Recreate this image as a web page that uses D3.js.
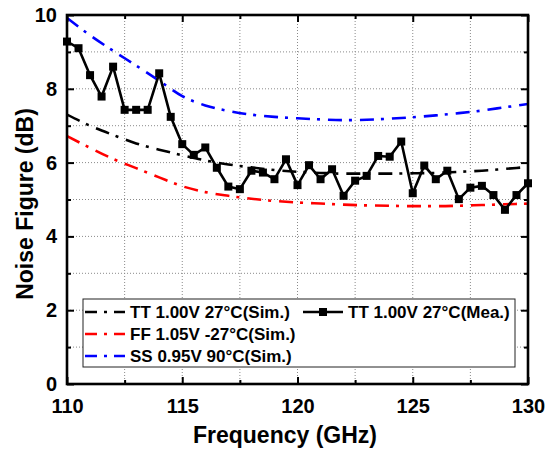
<!DOCTYPE html>
<html>
<head>
<meta charset="utf-8">
<script src="https://cdn.jsdelivr.net/npm/d3@7"></script>
<style>
  body { margin: 0; background: #fff; }
  svg text { font-family: "Liberation Sans", Arial, sans-serif; font-weight: bold; }
</style>
</head>
<body>
<div id="myChart"></div>
<script>
// simulated curves, 1 GHz steps
var simFreq = [110,111,112,113,114,115,116,117,118,119,120,121,122,123,124,125,126,127,128,129,130];
var simTT = [7.30,7.00,6.75,6.52,6.35,6.20,6.06,5.95,5.87,5.80,5.75,5.72,5.70,5.70,5.70,5.71,5.72,5.75,5.78,5.83,5.88];
var simFF = [6.72,6.40,6.10,5.85,5.60,5.36,5.20,5.10,5.02,4.96,4.92,4.89,4.86,4.84,4.83,4.82,4.82,4.83,4.85,4.87,4.89];
var simSS = [9.92,9.45,9.03,8.63,8.22,7.80,7.55,7.40,7.30,7.24,7.20,7.17,7.15,7.16,7.19,7.23,7.28,7.34,7.41,7.50,7.59];

// measured, 0.5 GHz steps
var meaFreq = [110,110.5,111,111.5,112,112.5,113,113.5,114,114.5,115,115.5,116,116.5,117,117.5,118,118.5,119,119.5,
  120,120.5,121,121.5,122,122.5,123,123.5,124,124.5,125,125.5,126,126.5,127,127.5,128,128.5,129,129.5,130];
var meaTT = [9.28,9.10,8.37,7.79,8.60,7.43,7.43,7.43,8.42,7.24,6.50,6.21,6.41,5.86,5.35,5.28,5.78,5.73,5.55,6.09,
  5.39,5.93,5.55,5.82,5.10,5.51,5.64,6.18,6.16,6.57,5.17,5.92,5.55,5.78,5.01,5.32,5.37,5.12,4.72,5.12,5.44];

var xTicks = [110,115,120,125,130];
var xMinor = [112.5,117.5,122.5,127.5];
var yTicks = [0,2,4,6,8,10];
var yMinor = [1,3,5,7,9];

var legendItems = [
  {label: 'TT 1.00V 27°C(Sim.)', color: '#000000', dash: true},
  {label: 'FF 1.05V -27°C(Sim.)', color: '#ff0000', dash: true},
  {label: 'SS 0.95V 90°C(Sim.)', color: '#0000ff', dash: true},
  {label: 'TT 1.00V 27°C(Mea.)', color: '#000000', dash: false}
];

function plotChart() {
  var W = 548, H = 460;
  var margin = {left: 67, top: 15, right: 20, bottom: 76};
  var w = W - margin.left - margin.right;
  var h = H - margin.top - margin.bottom;
  var dashPattern = '14,7,3,8';

  var svg = d3.select('#myChart').append('svg')
    .attr('width', W).attr('height', H);
  var g = svg.append('g')
    .attr('transform', 'translate(' + margin.left + ',' + margin.top + ')');

  var x = d3.scaleLinear().domain([110, 130]).range([0, w]);
  var y = d3.scaleLinear().domain([0, 10]).range([h, 0]);

  g.append('clipPath').attr('id', 'plotClip')
    .append('rect').attr('width', w).attr('height', h);

  // dotted grid
  var grid = g.append('g').attr('class', 'grid')
    .attr('stroke', '#8a8a8a').attr('stroke-width', 1).attr('stroke-dasharray', '1,2');
  grid.selectAll('.vg').data(xMinor.concat([115,120,125])).enter().append('line')
    .attr('x1', function(d) { return x(d); }).attr('x2', function(d) { return x(d); })
    .attr('y1', 0).attr('y2', h);
  grid.selectAll('.hg').data(d3.range(1, 10)).enter().append('line')
    .attr('y1', function(d) { return y(d); }).attr('y2', function(d) { return y(d); })
    .attr('x1', 0).attr('x2', w);

  // lines
  var line = d3.line()
    .x(function(d) { return x(d[0]); })
    .y(function(d) { return y(d[1]); })
    .curve(d3.curveMonotoneX);

  var lines = g.append('g').attr('clip-path', 'url(#plotClip)');
  [[simTT, '#000000'], [simFF, '#ff0000'], [simSS, '#0000ff']].forEach(function(s) {
    lines.append('path')
      .datum(d3.zip(simFreq, s[0]))
      .attr('d', line)
      .attr('fill', 'none')
      .attr('stroke', s[1])
      .attr('stroke-width', 2.6)
      .attr('stroke-dasharray', dashPattern);
  });

  var meaLine = d3.line()
    .x(function(d) { return x(d[0]); })
    .y(function(d) { return y(d[1]); });
  var mea = d3.zip(meaFreq, meaTT);
  lines.append('path')
    .datum(mea)
    .attr('d', meaLine)
    .attr('fill', 'none')
    .attr('stroke', '#000')
    .attr('stroke-width', 2.6)
    .attr('stroke-linejoin', 'round');
  g.append('g').selectAll('rect').data(mea).enter().append('rect')
    .attr('x', function(d) { return x(d[0]) - 4; })
    .attr('y', function(d) { return y(d[1]) - 4; })
    .attr('width', 8).attr('height', 8)
    .attr('fill', '#000');

  // axes, ticks inward
  function styleAxis(sel) {
    sel.select('.domain').remove();
    sel.selectAll('.tick line').attr('stroke', '#000').attr('stroke-width', 2);
    sel.selectAll('.tick text').attr('font-size', 20).attr('fill', '#000');
  }
  g.append('g').attr('transform', 'translate(0,' + h + ')')
    .call(d3.axisBottom(x).tickValues(xTicks).tickSize(-7).tickPadding(15).tickFormat(d3.format('d')))
    .call(styleAxis);
  g.append('g').attr('transform', 'translate(0,' + h + ')')
    .call(d3.axisBottom(x).tickValues(xMinor).tickSize(-4).tickFormat(''))
    .call(styleAxis);
  g.append('g')
    .call(d3.axisLeft(y).tickValues(yTicks).tickSize(-7).tickPadding(10).tickFormat(d3.format('d')))
    .call(styleAxis);
  g.append('g')
    .call(d3.axisLeft(y).tickValues(yMinor).tickSize(-4).tickFormat(''))
    .call(styleAxis);
  g.append('g')
    .call(d3.axisTop(x).tickValues(xTicks).tickSize(-7).tickFormat(''))
    .call(styleAxis);
  g.append('g')
    .call(d3.axisTop(x).tickValues(xMinor).tickSize(-4).tickFormat(''))
    .call(styleAxis);
  g.append('g').attr('transform', 'translate(' + w + ',0)')
    .call(d3.axisRight(y).tickValues(yTicks).tickSize(-7).tickFormat(''))
    .call(styleAxis);
  g.append('g').attr('transform', 'translate(' + w + ',0)')
    .call(d3.axisRight(y).tickValues(yMinor).tickSize(-4).tickFormat(''))
    .call(styleAxis);

  // frame
  g.append('rect')
    .attr('width', w).attr('height', h)
    .attr('fill', 'none').attr('stroke', '#000').attr('stroke-width', 2.6);

  // axis titles
  svg.append('text')
    .attr('x', 285).attr('y', 443)
    .attr('text-anchor', 'middle')
    .attr('font-size', 23)
    .text('Frequency (GHz)');
  svg.append('text')
    .attr('transform', 'translate(33,204) rotate(-90)')
    .attr('text-anchor', 'middle')
    .attr('font-size', 23)
    .text('Noise Figure (dB)');

  // legend
  var lg = svg.append('g');
  lg.append('rect')
    .attr('x', 83).attr('y', 299).attr('width', 432).attr('height', 68)
    .attr('fill', '#fff').attr('stroke', '#222').attr('stroke-width', 1);
  var pos = [[85, 312], [85, 334], [85, 356], [303, 312]];
  legendItems.forEach(function(d, i) {
    var px = pos[i][0], py = pos[i][1];
    lg.append('line')
      .attr('x1', px).attr('x2', px + 40).attr('y1', py).attr('y2', py)
      .attr('stroke', d.color).attr('stroke-width', 2.6)
      .attr('stroke-dasharray', d.dash ? '12,7,3,7' : null);
    if (!d.dash) {
      lg.append('rect')
        .attr('x', px + 16).attr('y', py - 4).attr('width', 8).attr('height', 8)
        .attr('fill', d.color);
    }
    lg.append('text')
      .attr('x', px + 45).attr('y', py)
      .attr('dy', '0.36em')
      .attr('font-size', 17)
      .text(d.label);
  });
}

document.addEventListener('DOMContentLoaded', plotChart, false);
</script>
</body>
</html>
